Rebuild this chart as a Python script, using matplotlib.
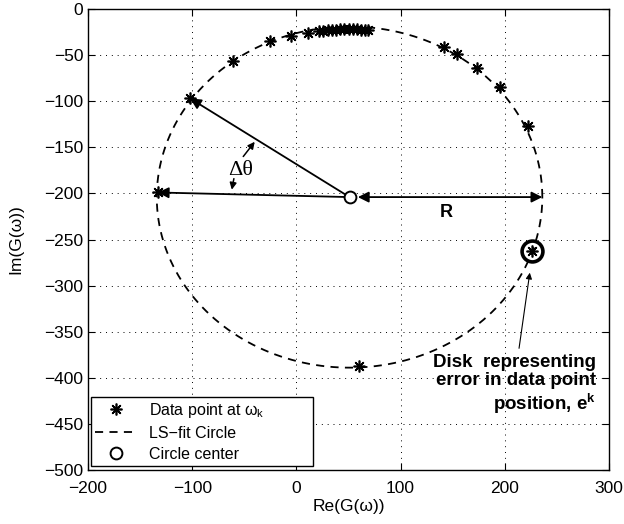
import numpy as np
import matplotlib
matplotlib.use("Agg")
import matplotlib.pyplot as plt

plt.rcParams['font.family'] = ['Liberation Sans', 'DejaVu Sans']
plt.rcParams['mathtext.fontset'] = 'custom'
plt.rcParams['mathtext.rm'] = 'Liberation Sans'
plt.rcParams['mathtext.it'] = 'Liberation Sans:italic'
plt.rcParams['mathtext.bf'] = 'Liberation Sans:bold'

# Data points (real, imaginary)
re_data = [-133, -102, -61, -25, -5, 11, 22, 26, 30, 34, 38, 42, 46, 50, 54,
           58, 62, 66, 69, 142, 154, 173, 195, 222, 226, 60]
im_data = [-199, -97, -56, -35, -29, -26, -24, -23.5, -23, -22.5, -22.3, -22,
           -22, -22, -22, -22, -22.3, -22.5, -23, -41, -49, -64, -85, -127,
           -262, -387]

# LS-fit circle parameters
center_re, center_im = 51, -204
radius = 185

# highlighted point (disk)
disk_re, disk_im = 226, -262

x_ticks = [-200, -100, 0, 100, 200, 300]
y_ticks = [0, -50, -100, -150, -200, -250, -300, -350, -400, -450, -500]

fig = plt.figure(figsize=(6.24, 5.24), dpi=100)
ax = fig.add_axes([88/624, 54/524, 521/624, 461/524])

theta = np.linspace(0, 2*np.pi, 400)
circ_re = center_re + radius*np.cos(theta)
circ_im = center_im + radius*np.sin(theta)

star = (8, 2, 0)
ax.plot(re_data, im_data, linestyle='none', marker=star, ms=8.5, mew=1.2,
        color='black', label='Data point at \u03c9$_\\mathrm{k}$', zorder=4)
ax.plot(circ_re, circ_im, color='black', lw=1.3, dashes=(4.5, 3.5),
        label='LS\u2212fit Circle', zorder=3)
ax.plot([center_re], [center_im], linestyle='none', marker='o', ms=8.5,
        mfc='white', mec='black', mew=1.4, label='Circle center', zorder=5)

# disk around one data point
ax.plot([disk_re], [disk_im], linestyle='none', marker='o', ms=15,
        mfc='none', mec='black', mew=2.6, zorder=5)

arrow_kw = dict(arrowstyle='-|>', color='black', lw=1.3, mutation_scale=16,
                shrinkA=0, shrinkB=0)
# radius arrows to two data points
ax.annotate('', xy=(re_data[1], im_data[1]), xytext=(center_re, center_im),
            arrowprops=arrow_kw, zorder=3)
ax.annotate('', xy=(re_data[0], im_data[0]), xytext=(center_re, center_im),
            arrowprops=arrow_kw, zorder=3)
# R double arrow
ax.annotate('', xy=(center_re + radius, center_im), xytext=(center_re, center_im),
            arrowprops=dict(arrowstyle='<|-|>', color='black', lw=1.3,
                            mutation_scale=16, shrinkA=6, shrinkB=0), zorder=3)
ax.text(144, -221, 'R', fontsize=13, fontweight='bold', ha='center', va='center')

# delta theta
ax.text(-54, -175, '\u0394\u03b8', fontsize=16, ha='center', va='center',
        family=['Liberation Serif', 'DejaVu Serif'])
small_kw = dict(arrowstyle='-|>', color='black', lw=1.1, mutation_scale=10,
                shrinkA=0, shrinkB=0)
ax.annotate('', xy=(-40, -144), xytext=(-51, -160), arrowprops=small_kw)
ax.annotate('', xy=(-62, -196), xytext=(-60, -184), arrowprops=small_kw)

# disk annotation
ax.annotate('Disk  representing\nerror in data point\nposition, e$^\\mathbf{k}$',
            xy=(224, -286), xytext=(288, -374), ha='right', va='top',
            fontsize=13.5, fontweight='bold', linespacing=1.12,
            arrowprops=dict(arrowstyle='-|>', color='black', lw=0.8,
                            mutation_scale=9, shrinkA=2, shrinkB=0,
                            relpos=(0.52, 1.0)))

ax.set_xlim(-200, 300)
ax.set_ylim(-500, 0)
ax.set_xticks(x_ticks)
ax.set_yticks(y_ticks)
ax.tick_params(direction='in', top=True, right=True, labelsize=12.5, length=5,
               width=0.8)
ax.tick_params(axis='x', pad=8)
ax.grid(True, color='black', linestyle=(0, (1, 5)), lw=0.7)
for s in ax.spines.values():
    s.set_linewidth(1.0)
ax.set_xlabel('Re(G(\u03c9))', fontsize=12.5, labelpad=2)
ax.set_ylabel('Im(G(\u03c9))', fontsize=12.5, labelpad=15)

leg = ax.legend(loc='lower left', bbox_to_anchor=(0.006, 0.009, 0.426, 0.1),
                mode='expand', borderaxespad=0, fancybox=False, framealpha=1,
                edgecolor='black', fontsize=11.5, handlelength=2.6,
                labelspacing=0.38, borderpad=0.25)
leg.get_frame().set_linewidth(1.0)

fig.savefig('out.png', dpi=100)
